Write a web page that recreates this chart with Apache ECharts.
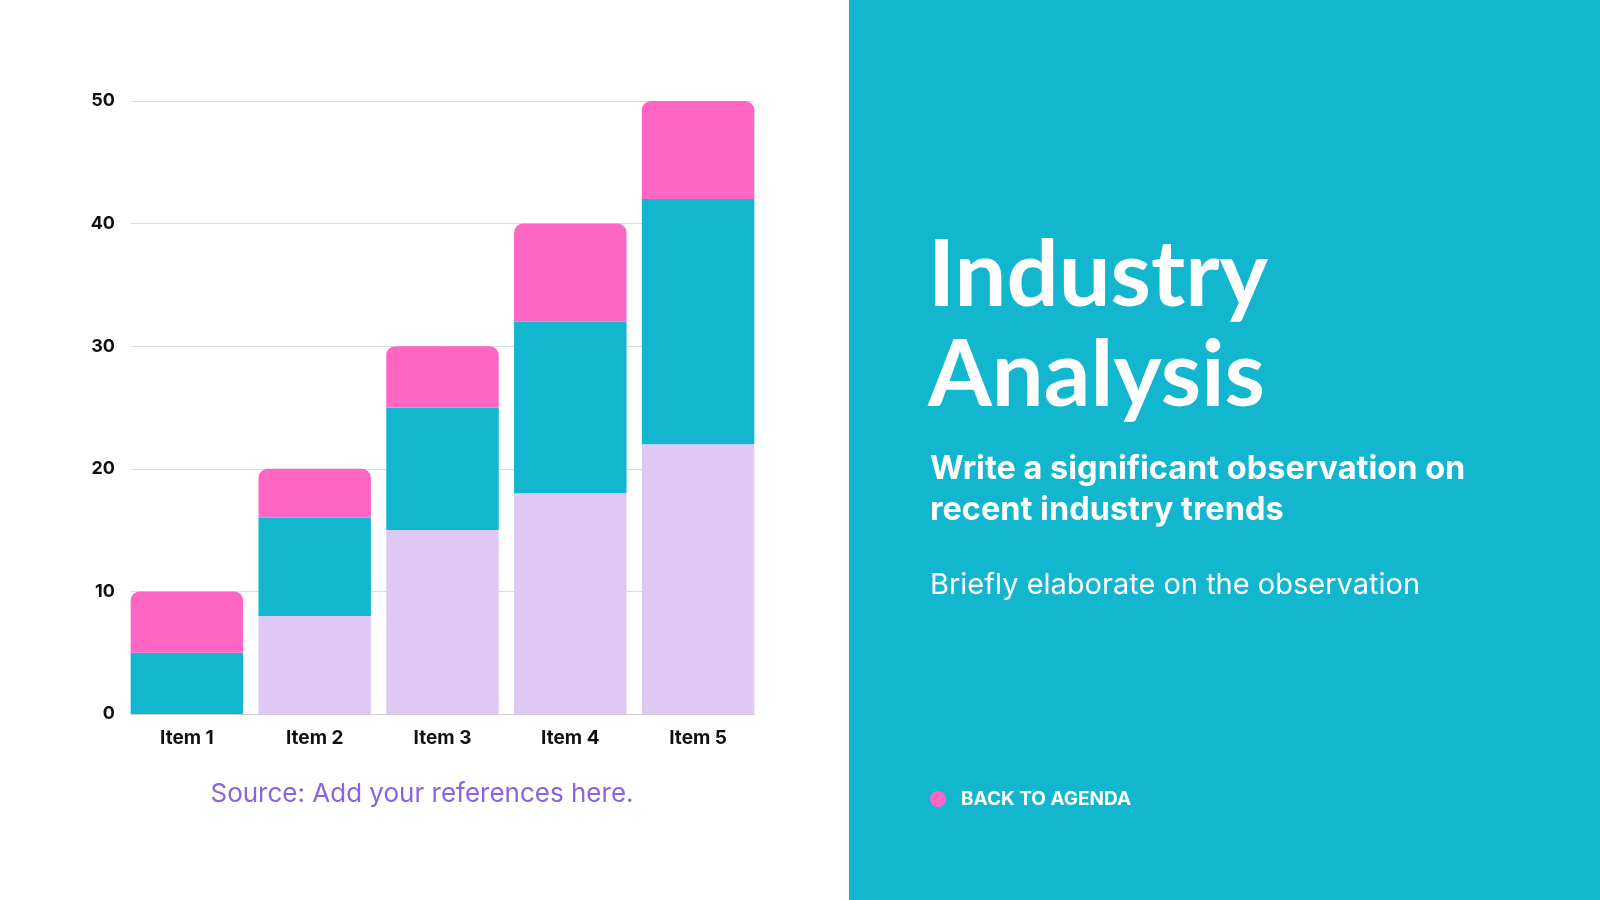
<!DOCTYPE html>
<html>
<head>
<meta charset="utf-8">
<script src="https://cdn.jsdelivr.net/npm/echarts@6/dist/echarts.min.js"></script>
<style>
html,body{margin:0;padding:0;background:#fff;}
#chart{width:1600px;height:900px;}
</style>
</head>
<body>
<div id="chart"></div>
<script>
var items=["Item 1","Item 2","Item 3","Item 4","Item 5"];
var lavender=[0,8,15,18,22];
var teal=[5,8,10,14,20];
var pink=[5,4,5,8,8];

var Chart=echarts.init(document.getElementById('chart'));

// only the top segment gets rounded corners
var pinkData=pink.map(function(v){
    return {value:v,itemStyle:{borderRadius:[9,9,0,0]}};
});

var option={
    backgroundColor:'#fff',
    animation:false,
    // grid 0 holds the bars, grid 1 only draws the gridlines/axis line flush with the bars
    grid:[
        {left:123,right:838,top:101,bottom:186},
        {left:131,right:846,top:101,bottom:186}
    ],
    xAxis:[
        {
            type:'category',gridIndex:0,
            data:items,
            axisLine:{show:false},
            axisTick:{show:false},
            axisLabel:{color:'#111',fontFamily:'Inter',fontWeight:'bold',fontSize:19,margin:15}
        },
        {
            type:'category',gridIndex:1,
            data:items,
            axisLine:{lineStyle:{color:'#cfcfcf',width:1}},
            axisTick:{show:false},
            axisLabel:{show:false},
            z:1
        }
    ],
    yAxis:[
        {
            type:'value',gridIndex:0,
            min:0,max:50,interval:10,
            show:false
        },
        {
            type:'value',gridIndex:1,
            min:0,max:50,interval:10,
            axisLine:{show:false},
            axisTick:{show:false},
            splitLine:{lineStyle:{color:'#dcdcdc',width:1}},
            axisLabel:{color:'#111',fontFamily:'Inter',fontWeight:'bold',fontSize:18,margin:16,padding:[4,0,0,0]}
        }
    ],
    series:[
        {name:'A',type:'bar',stack:'s',data:lavender,barCategoryGap:'12%',itemStyle:{color:'#E0C8F5'},z:3},
        {name:'B',type:'bar',stack:'s',data:teal,itemStyle:{color:'#12B6CF'},z:3},
        {name:'C',type:'bar',stack:'s',data:pinkData,itemStyle:{color:'#FF66C4'},z:3}
    ],
    graphic:[
        {type:'rect',left:849,top:0,shape:{width:751,height:900},style:{fill:'#12B6CF'},z:-1},
        {type:'text',left:928,top:230,style:{text:'Industry',fill:'#fff',font:'bold 92px Lato'}},
        {type:'text',left:928,top:330,style:{text:'Analysis',fill:'#fff',font:'bold 92px Lato'}},
        {type:'text',left:930,top:449,style:{text:'Write a significant observation on\nrecent industry trends',fill:'#fff',font:'bold 32.5px Inter',lineHeight:41}},
        {type:'text',left:930,top:571,style:{text:'Briefly elaborate on the observation',fill:'#fff',font:'29px Inter'}},
        {type:'circle',shape:{cx:938,cy:799,r:8},style:{fill:'#FF66C4'}},
        {type:'text',left:961,top:790,style:{text:'BACK TO AGENDA',fill:'#fff',font:'bold 19px Inter'}},
        {type:'text',x:422,y:794,style:{text:'Source: Add your references here.',fill:'#8B63E0',font:'26px Inter',align:'center',verticalAlign:'middle'}}
    ]
};
Chart.setOption(option);
</script>
</body>
</html>
